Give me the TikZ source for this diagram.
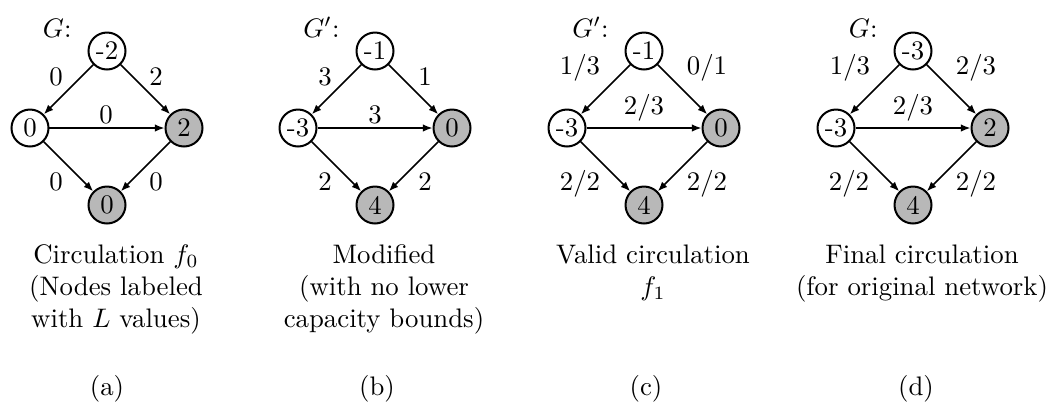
\documentclass[tikz,border=0pt]{standalone}
\usetikzlibrary{arrows.meta}
\begin{document}
\begin{tikzpicture}[x=0.37313pt,y=-0.37313pt,
  vtx/.style={circle,draw,line width=0.75pt,minimum size=13.8pt,inner sep=0pt},
  snk/.style={vtx,fill=black!28},
  arc/.style={line width=0.6pt,-{Latex[length=3.6pt,width=2.8pt]}},
  lab/.style={inner sep=0pt},
  captext/.style={align=center,anchor=north,inner sep=0pt},
  sublabel/.style={anchor=base,inner sep=0pt},
  glabel/.style={anchor=base east,inner sep=0pt}]
\useasboundingbox (0,0) rectangle (1047,402);
% (a)
\begin{scope}[shift={(107,0)}]
  \node[vtx] (a1) at (0,51) {-2};
  \node[vtx] (a2) at (-77,128) {0};
  \node[snk] (a3) at (77,128) {2};
  \node[snk] (a4) at (0,205) {0};
  \node[glabel] (aG) at (-35,37) {$G$:};
  \draw[arc] (a1) -- (a2);
  \draw[arc] (a1) -- (a3);
  \draw[arc] (a2) -- (a3);
  \draw[arc] (a2) -- (a4);
  \draw[arc] (a3) -- (a4);
  \node[lab] (al1) at (-51,77) {0};
  \node[lab] (al2) at (49,77) {2};
  \node[lab] (al3) at (-1,115) {0};
  \node[lab] (al4) at (-51,182) {0};
  \node[lab] (al5) at (49,182) {0};
  \node[captext] (acap) at (9,240.5) {\strut Circulation $f_0$\\(Nodes labeled\\with $L$ values)};
  \node[sublabel] (asub) at (0,395) {(a)};
\end{scope}
% (b)
\begin{scope}[shift={(375,0)}]
  \node[vtx] (b1) at (0,51) {-1};
  \node[vtx] (b2) at (-77,128) {-3};
  \node[snk] (b3) at (77,128) {0};
  \node[snk] (b4) at (0,205) {4};
  \node[glabel] (bG) at (-35,37) {$G'$:};
  \draw[arc] (b1) -- (b2);
  \draw[arc] (b1) -- (b3);
  \draw[arc] (b2) -- (b3);
  \draw[arc] (b2) -- (b4);
  \draw[arc] (b3) -- (b4);
  \node[lab] (bl1) at (-50,77) {3};
  \node[lab] (bl2) at (50,77) {1};
  \node[lab] (bl3) at (0,115) {3};
  \node[lab] (bl4) at (-50,182) {2};
  \node[lab] (bl5) at (50,182) {2};
  \node[captext] (bcap) at (9,240.5) {\strut Modified\\(with no lower\\capacity bounds)};
  \node[sublabel] (bsub) at (2,395) {(b)};
\end{scope}
% (c)
\begin{scope}[shift={(644,0)}]
  \node[vtx] (c1) at (0,51) {-1};
  \node[vtx] (c2) at (-77,128) {-3};
  \node[snk] (c3) at (77,128) {0};
  \node[snk] (c4) at (0,205) {4};
  \node[glabel] (cG) at (-35,37) {$G'$:};
  \draw[arc] (c1) -- (c2);
  \draw[arc] (c1) -- (c3);
  \draw[arc] (c2) -- (c3);
  \draw[arc] (c2) -- (c4);
  \draw[arc] (c3) -- (c4);
  \node[lab] (cl1) at (-64,68) {1/3};
  \node[lab] (cl2) at (63,68) {0/1};
  \node[lab] (cl3) at (0,108) {2/3};
  \node[lab] (cl4) at (-64,184) {2/2};
  \node[lab] (cl5) at (63,184) {2/2};
  \node[captext] (ccap) at (9,240.5) {\strut Valid circulation\\$f_1$};
  \node[sublabel] (csub) at (2,395) {(c)};
\end{scope}
% (d)
\begin{scope}[shift={(913,0)}]
  \node[vtx] (d1) at (0,51) {-3};
  \node[vtx] (d2) at (-77,128) {-3};
  \node[snk] (d3) at (77,128) {2};
  \node[snk] (d4) at (0,205) {4};
  \node[glabel] (dG) at (-35,37) {$G$:};
  \draw[arc] (d1) -- (d2);
  \draw[arc] (d1) -- (d3);
  \draw[arc] (d2) -- (d3);
  \draw[arc] (d2) -- (d4);
  \draw[arc] (d3) -- (d4);
  \node[lab] (dl1) at (-63,68) {1/3};
  \node[lab] (dl2) at (63,68) {2/3};
  \node[lab] (dl3) at (0,108) {2/3};
  \node[lab] (dl4) at (-64,184) {2/2};
  \node[lab] (dl5) at (63,184) {2/2};
  \node[captext] (dcap) at (9,240.5) {\strut Final circulation\\(for original network)};
  \node[sublabel] (dsub) at (3,395) {(d)};
\end{scope}
\end{tikzpicture}
\end{document}
